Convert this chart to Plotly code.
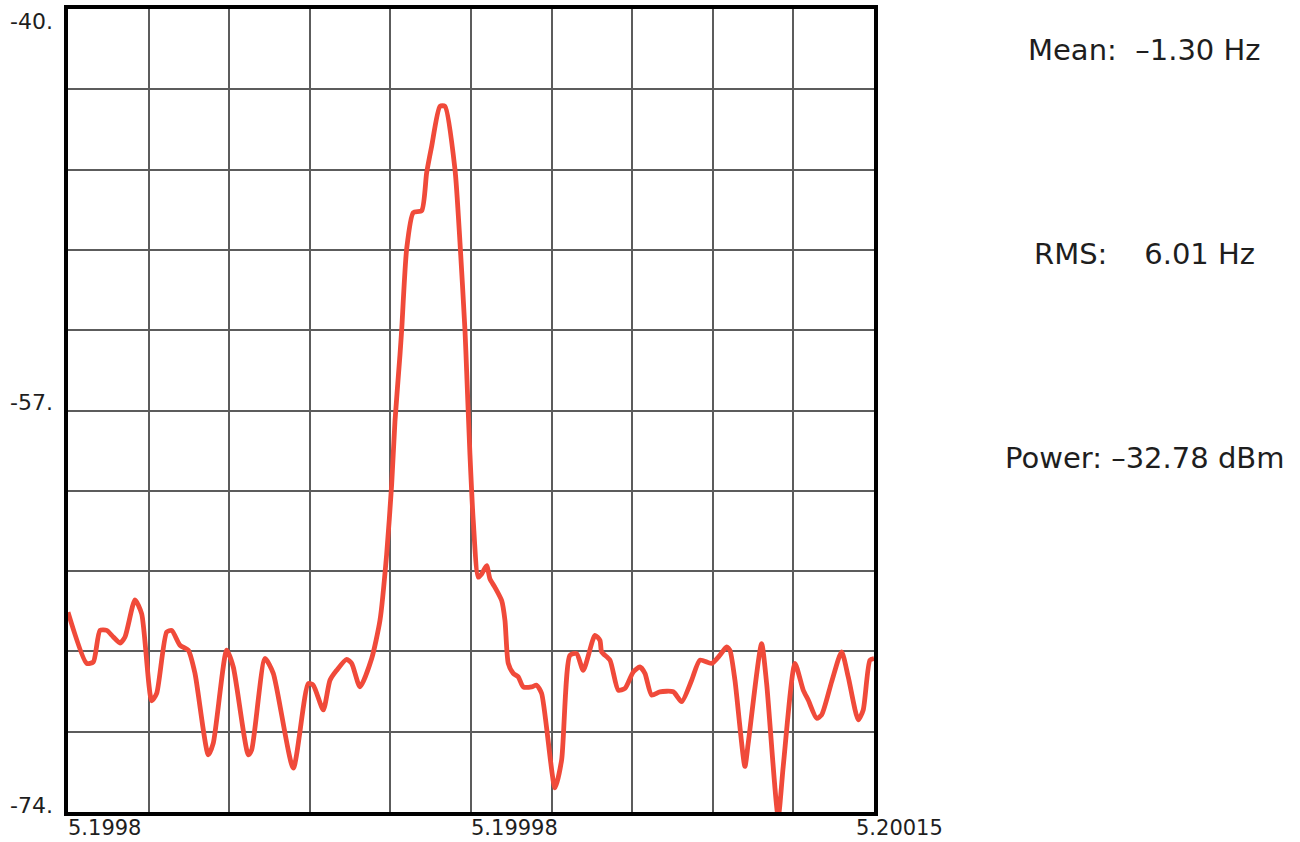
import plotly.graph_objects as go

# Frequency axis: offsets (kHz) from the 5.1998 start frequency; axis in GHz
F0_GHZ = 5.1998
offset_khz = [
    0, 8.12, 10.99, 13.89, 16.80, 19.67, 22.58, 24.75, 29.09, 32.00,
    36.34, 38.51, 42.86, 45.03, 48.63, 52.24, 55.14, 60.92, 63.09, 68.91,
    71.77, 78.29, 79.76, 85.54, 89.14, 97.83, 104.34, 106.51, 110.85, 113.76,
    116.67, 121.01, 123.18, 126.79, 131.87, 135.47, 138.38, 140.55, 141.98, 144.15,
    144.89, 147.06, 149.93, 153.58, 155.75, 157.92, 161.52, 163.69, 168.04, 170.21,
    172.38, 173.12, 174.55, 175.98, 178.15, 179.63, 181.80, 183.23, 185.40, 188.31,
    189.75, 191.18, 193.35, 195.52, 197.69, 201.34, 203.51, 205.68, 211.46, 214.36,
    217.97, 220.88, 223.74, 228.82, 230.99, 231.73, 235.34, 238.94, 241.85, 245.45,
    248.36, 250.53, 253.44, 257.05, 262.82, 266.47, 270.81, 274.41, 279.49, 283.10,
    286.01, 287.44, 289.61, 293.95, 295.39, 301.20, 303.38, 308.41, 310.58, 315.67,
    319.27, 321.44, 325.09, 327.26, 331.60, 335.94, 338.81, 343.15, 345.32, 348.23,
    350.00,
]
power_dbm = [
    -65.54, -67.71, -67.65, -66.31, -66.31, -66.59, -66.85, -66.59, -65.02, -65.61,
    -69.29, -68.98, -66.38, -66.31, -66.94, -67.15, -68.13, -71.58, -71.08, -67.15,
    -67.86, -71.58, -71.37, -67.50, -68.13, -72.14, -68.56, -68.63, -69.68, -68.42,
    -68.00, -67.54, -67.71, -68.70, -67.50, -65.89, -63.08, -60.13, -57.46, -54.65,
    -53.60, -50.16, -48.62, -48.54, -46.93, -45.81, -44.12, -44.12, -46.79, -49.88,
    -53.60, -55.36, -58.87, -61.68, -64.06, -63.92, -63.57, -64.13, -64.49, -65.05,
    -65.89, -67.71, -68.13, -68.28, -68.70, -68.70, -68.63, -68.98, -72.98, -71.79,
    -67.36, -67.29, -68.00, -66.52, -66.73, -67.22, -67.57, -68.84, -68.77, -68.07,
    -67.86, -68.13, -69.05, -68.91, -68.91, -69.33, -68.42, -67.57, -67.71, -67.36,
    -67.01, -67.15, -68.42, -72.07, -71.08, -66.87, -68.56, -74.20, -72.07, -67.71,
    -68.84, -69.26, -70.03, -69.89, -68.49, -67.22, -68.28, -70.10, -69.68, -67.57,
    -67.50,
]

x_range = [5.1998, 5.20015]
y_range = [-74, -40]
x_tick_vals = [5.1998, 5.199975, 5.20015]
x_tick_text = ["5.1998", "5.19998", "5.20015"]
y_tick_vals = [-40, -57, -74]
y_tick_text = ["-40.", "-57.", "-74."]
stats_text = [
    "Mean:\u00a0\u00a0–1.30 Hz",
    "RMS:\u00a0\u00a0\u00a0\u00a06.01 Hz",
    "Power: –32.78 dBm",
]

freq_ghz = [F0_GHZ + k * 1e-6 for k in offset_khz]

fig = go.Figure()
fig.add_trace(go.Scatter(
    x=freq_ghz, y=power_dbm, mode="lines",
    line=dict(color="#F04A3A", width=4.8, shape="spline", smoothing=0.6),
    showlegend=False, hoverinfo="x+y",
))

FONT = "DejaVu Sans"
TXT = "#1e1e1e"

annotations = []
# y tick labels
y_shifts = [-12.5, 8, 7]
for v, t, s in zip(y_tick_vals, y_tick_text, y_shifts):
    annotations.append(dict(
        xref="paper", x=0, yref="y", y=v, text=t, showarrow=False,
        xanchor="right", yanchor="middle", xshift=-13, yshift=s,
        font=dict(family=FONT, size=22, color=TXT),
    ))
# x tick labels
x_shifts = [-2, -2, -20]
for v, t, s in zip(x_tick_vals, x_tick_text, x_shifts):
    annotations.append(dict(
        xref="x", x=v, yref="paper", y=0, text=t, showarrow=False,
        xanchor="left", yanchor="top", xshift=s, yshift=-2,
        font=dict(family=FONT, size=21, color=TXT),
    ))
# statistics text at right
stat_shifts = [-40.5, -244.5, -448.5]
for t, s in zip(stats_text, stat_shifts):
    annotations.append(dict(
        xref="paper", x=1, yref="paper", y=1, text=t, showarrow=False,
        xanchor="center", yanchor="middle", xshift=270, yshift=s,
        font=dict(family=FONT, size=29, color=TXT),
    ))

axis_common = dict(
    showline=True, linewidth=4, linecolor="black", mirror=True,
    showgrid=True, gridcolor="#5c5c5c", gridwidth=2,
    zeroline=False, showticklabels=False, ticks="",
)

fig.update_layout(
    width=1300, height=842,
    margin=dict(l=68, r=426, t=5, b=30),
    paper_bgcolor="white", plot_bgcolor="white",
    xaxis=dict(range=x_range, tickmode="linear", tick0=5.1998, dtick=0.000035,
               **axis_common),
    yaxis=dict(range=y_range, tickmode="linear", tick0=-40, dtick=3.4,
               **axis_common),
    annotations=annotations,
)

fig.write_html(
    "out.html",
    config={"displayModeBar": False},
    post_script="document.body.style.margin='0';document.body.style.overflow='hidden';",
)
